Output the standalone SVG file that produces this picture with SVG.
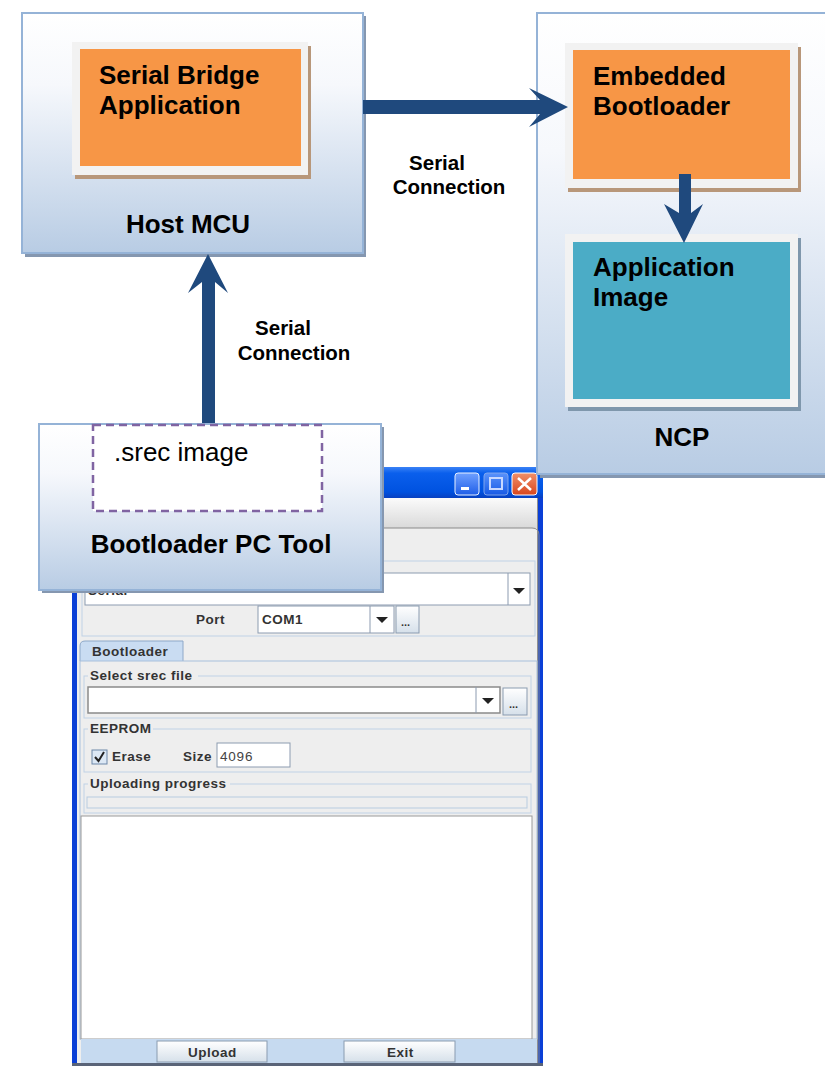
<svg xmlns="http://www.w3.org/2000/svg" width="825" height="1066" viewBox="0 0 825 1066">
<defs>
<linearGradient id="boxg" x1="0" y1="0" x2="0" y2="1">
<stop offset="0" stop-color="#ffffff"/>
<stop offset="0.3" stop-color="#f6f8fc"/>
<stop offset="1" stop-color="#b8cce4"/>
</linearGradient>
<linearGradient id="titleg" x1="0" y1="0" x2="0" y2="1">
<stop offset="0" stop-color="#3a82f6"/>
<stop offset="0.2" stop-color="#0a5fec"/>
<stop offset="0.8" stop-color="#0052e0"/>
<stop offset="1" stop-color="#0840c0"/>
</linearGradient>
<linearGradient id="menug" x1="0" y1="0" x2="0" y2="1">
<stop offset="0" stop-color="#fbfbfb"/>
<stop offset="1" stop-color="#d9d9d9"/>
</linearGradient>
<linearGradient id="btng" x1="0" y1="0" x2="0" y2="1">
<stop offset="0" stop-color="#ffffff"/>
<stop offset="1" stop-color="#d6e0ea"/>
</linearGradient>
<linearGradient id="tbblue" x1="0" y1="0" x2="0" y2="1">
<stop offset="0" stop-color="#6fa0ff"/>
<stop offset="1" stop-color="#1f5ee8"/>
</linearGradient>
<linearGradient id="tbred" x1="0" y1="0" x2="0" y2="1">
<stop offset="0" stop-color="#f0906a"/>
<stop offset="1" stop-color="#d8461e"/>
</linearGradient>
</defs>
<style>
.box{fill:url(#boxg);stroke:#95b3d7;stroke-width:2}
.shadow{fill:#8597b0}
.frame{fill:#f2f2f2}
.orange{fill:#f79646}
.teal{fill:#4bacc6}
.t{font-family:"Liberation Sans",Arial,sans-serif;font-weight:bold;font-size:26px;fill:#000}
.tn{font-family:"Liberation Sans",Arial,sans-serif;font-size:26px;fill:#000}
.lbl{font-family:"Liberation Sans",Arial,sans-serif;font-weight:bold;font-size:20.5px;fill:#000}
.ui{font-family:"Liberation Sans",Arial,sans-serif;font-weight:bold;font-size:13.5px;letter-spacing:0.5px;fill:#333}
.uin{font-family:"Liberation Sans",Arial,sans-serif;font-size:13.5px;letter-spacing:0.8px;fill:#444}
.fld{fill:#fff;stroke:#8c9bb0;stroke-width:1}
.grp{fill:none;stroke:#c0d2e6;stroke-width:1}
.btn{fill:url(#btng);stroke:#8a9bb0;stroke-width:1}
.arr{fill:#1f497d}
</style>

<g id="pc-tool-window">
<rect x="72" y="467" width="471" height="599" fill="#0a3fd6"/>
<rect x="72" y="467" width="471" height="31" fill="url(#titleg)"/>
<rect x="455" y="473" width="24" height="22" rx="3" fill="url(#tbblue)" stroke="#e8f0ff" stroke-width="1"/>
<rect x="461" y="487" width="8" height="3" fill="#fff"/>
<rect x="484" y="473" width="24" height="22" rx="3" fill="url(#tbblue)" stroke="#9db8f0" stroke-width="1" opacity="0.8"/>
<rect x="490" y="478" width="12" height="11" fill="none" stroke="#c8d8ff" stroke-width="2"/>
<rect x="512" y="473" width="25" height="22" rx="3" fill="url(#tbred)" stroke="#fff" stroke-width="1"/>
<path d="M518 478 L531 490 M531 478 L518 490" stroke="#fff" stroke-width="2.5"/>
<rect x="77" y="498" width="461" height="565" fill="#eeeeee"/>
<rect x="77" y="498" width="461" height="30" fill="url(#menug)"/>
<path d="M77 528 L532 528 Q539 528 539 535 L539 1063" fill="none" stroke="#8a8a8a" stroke-width="1"/>
<line x1="537.5" y1="498" x2="537.5" y2="1063" stroke="#909090"/>
<rect x="82" y="561" width="453" height="75" class="grp"/>
<rect x="85" y="573" width="445" height="32" class="fld"/>
<line x1="508" y1="573" x2="508" y2="605" stroke="#8c9bb0"/>
<path d="M513 588 L525 588 L519 594 Z" fill="#222"/>
<text x="88" y="595" class="ui">Serial</text>
<text x="196" y="624" class="ui">Port</text>
<rect x="258" y="606" width="136" height="27" class="fld"/>
<line x1="370" y1="606" x2="370" y2="633" stroke="#8c9bb0"/>
<path d="M376 617 L388 617 L382 623 Z" fill="#222"/>
<text x="262" y="624" class="ui">COM1</text>
<rect x="396" y="606" width="23" height="27" class="btn"/>
<text x="401" y="626" class="ui" style="font-size:11px;letter-spacing:0">...</text>
<path d="M80 661 L80 646 Q80 641 85 641 L183 641 L183 661" fill="#c9dcf2" stroke="#8ea8c8" stroke-width="1"/>
<text x="92" y="656" class="ui">Bootloader</text>
<rect x="80" y="661" width="457" height="378" fill="#eeeeee" stroke="#a8c0dc" stroke-width="1"/>
<rect x="84" y="676" width="447" height="42" class="grp"/>
<rect x="88" y="670" width="110" height="12" fill="#eeeeee"/>
<text x="90" y="680" class="ui">Select srec file</text>
<rect x="88" y="687" width="412" height="26" fill="#fff" stroke="#8a8a8a" stroke-width="1.5"/>
<line x1="476" y1="687" x2="476" y2="713" stroke="#8c9bb0"/>
<path d="M482 698 L494 698 L488 704 Z" fill="#222"/>
<rect x="503" y="688" width="24" height="27" class="btn"/>
<text x="509" y="708" class="ui" style="font-size:11px;letter-spacing:0">...</text>
<rect x="84" y="729" width="447" height="43" class="grp"/>
<rect x="88" y="723" width="65" height="12" fill="#eeeeee"/>
<text x="90" y="733" class="ui">EEPROM</text>
<rect x="92" y="750" width="15" height="14" fill="#dce8f5" stroke="#6d87a8" stroke-width="1"/>
<path d="M95 757 L98.5 761 L104 752" fill="none" stroke="#222" stroke-width="2"/>
<text x="112" y="761" class="ui">Erase</text>
<text x="183" y="761" class="ui">Size</text>
<rect x="217" y="743" width="73" height="24" class="fld"/>
<text x="220" y="761" class="uin">4096</text>
<rect x="84" y="784" width="447" height="29" class="grp"/>
<rect x="88" y="778" width="142" height="12" fill="#eeeeee"/>
<text x="90" y="788" class="ui">Uploading progress</text>
<rect x="87" y="797" width="440" height="11" fill="#eeeeee" stroke="#b8cce0" stroke-width="1"/>
<rect x="81" y="816" width="451" height="223" fill="#ffffff" stroke="#9a9a9a" stroke-width="1"/>
<rect x="81" y="1039" width="456" height="24" fill="#c6daf0"/>
<rect x="157" y="1041" width="110" height="21" class="btn"/>
<text x="188" y="1057" class="ui">Upload</text>
<rect x="344" y="1041" width="111" height="21" class="btn"/>
<text x="387" y="1057" class="ui">Exit</text>
<rect x="72" y="1063" width="471" height="3" fill="#5a6478"/>
</g>

<g id="host-mcu">
<rect x="25" y="16" width="341" height="241" class="shadow"/>
<rect x="22" y="13" width="341" height="240" class="box"/>
<rect x="75" y="46" width="236" height="133" fill="#b8977a"/>
<rect x="72" y="42" width="236" height="133" class="frame"/>
<rect x="80" y="49" width="221" height="117" class="orange"/>
<text x="99" y="84" class="t">Serial Bridge</text>
<text x="99" y="114" class="t">Application</text>
<text x="188" y="233" class="t" text-anchor="middle">Host MCU</text>
</g>

<g id="ncp">
<rect x="540" y="16" width="300" height="462" class="shadow"/>
<rect x="537" y="13" width="300" height="461" class="box"/>
<g id="embedded-bootloader">
<rect x="568" y="47" width="233" height="145" fill="#b8977a"/>
<rect x="565" y="43" width="233" height="145" class="frame"/>
<rect x="573" y="50" width="217" height="129" class="orange"/>
<text x="593" y="85" class="t">Embedded</text>
<text x="593" y="115" class="t">Bootloader</text>
</g>
<g id="application-image">
<rect x="568" y="238" width="233" height="173" fill="#7f97ac"/>
<rect x="565" y="234" width="233" height="173" class="frame"/>
<rect x="573" y="242" width="217" height="157" class="teal"/>
<text x="593" y="276" class="t">Application</text>
<text x="593" y="306" class="t">Image</text>
</g>
<text x="682" y="446" class="t" text-anchor="middle">NCP</text>
</g>

<g id="bootloader-pc-tool">
<rect x="42" y="427" width="342" height="166" class="shadow"/>
<rect x="39" y="424" width="342" height="166" class="box"/>
<rect x="93" y="425" width="229" height="86" fill="#ffffff" stroke="#8064a2" stroke-width="2.5" stroke-dasharray="8 5"/>
<text x="114" y="461" class="tn">.srec image</text>
<text x="211" y="553" class="t" text-anchor="middle">Bootloader PC Tool</text>
</g>

<g id="connectors">
<polygon class="arr" points="363,100 540,100 529,88 568,107 529,127 540,114 363,114"/>
<polygon class="arr" points="202,423 202,282 188,293 208,254 228,293 215,282 215,423"/>
<polygon class="arr" points="679,174 691,174 691,213 703,204 684,243 664,204 679,213"/>
<text x="437" y="170" class="lbl" text-anchor="middle">Serial</text>
<text x="449" y="194" class="lbl" text-anchor="middle">Connection</text>
<text x="283" y="335" class="lbl" text-anchor="middle">Serial</text>
<text x="294" y="360" class="lbl" text-anchor="middle">Connection</text>
</g>
</svg>
